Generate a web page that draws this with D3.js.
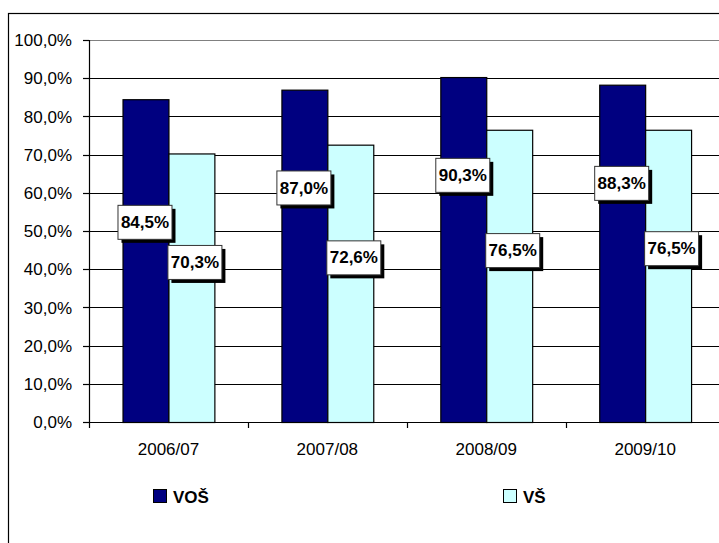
<!DOCTYPE html>
<html>
<head>
<meta charset="utf-8">
<script src="https://cdn.jsdelivr.net/npm/d3@7"></script>
<style>
  html, body { margin: 0; padding: 0; background: #fff; }
  svg { display: block; font-family: Arial, "Liberation Sans", sans-serif; }
</style>
</head>
<body>
<svg id="chart" width="719" height="543"></svg>
<script>
// ---------- data ----------
const years = ["2006/07", "2007/08", "2008/09", "2009/10"];
const series = ["VOŠ", "VŠ"];
const vosValues = [84.5, 87.0, 90.3, 88.3];
const vsValues = [70.3, 72.6, 76.5, 76.5];
const yTicks = [0, 10, 20, 30, 40, 50, 60, 70, 80, 90, 100];
// where the (hand-placed) value labels sit, in axis units
const vosLabelAt = [52.4, 61.4, 64.7, 62.6];
const vsLabelAt = [41.9, 43.1, 45.0, 45.5];

const colors = { "VOŠ": "#000080", "VŠ": "#ccffff" };

// ---------- helpers ----------
const cz = d3.formatLocale({ decimal: ",", thousands: " ", grouping: [3], currency: ["", " Kč"] });
const pct = (v) => cz.format(".1%")(v / 100);

const svg = d3.select("#chart");

// ---------- layout ----------
const plot = { left: 89, right: 724.6, top: 40, bottom: 422 };

const x = d3.scaleBand()
  .domain(years)
  .range([plot.left, plot.right])
  .padding(0);

const xs = d3.scaleBand()
  .domain(series)
  .range([0, x.bandwidth()])
  .paddingInner(0)
  .paddingOuter(0.73);

const y = d3.scaleLinear()
  .domain([0, 100])
  .range([plot.bottom, plot.top]);

// outer chart border (runs off the right/bottom like the original)
svg.append("rect")
  .attr("x", 8.5).attr("y", 13.5)
  .attr("width", 740).attr("height", 540)
  .attr("fill", "none")
  .attr("stroke", "#000")
  .attr("stroke-width", 1.2);

// ---------- grid ----------
svg.append("g")
  .selectAll("line")
  .data(yTicks.filter(t => t > 0))
  .join("line")
  .attr("x1", plot.left).attr("x2", plot.right + 10)
  .attr("y1", d => Math.round(y(d)) + 0.5)
  .attr("y2", d => Math.round(y(d)) + 0.5)
  .attr("stroke", d => d === 100 ? "#808080" : "#000")
  .attr("stroke-width", 1.2);

// ---------- y axis ----------
const yAxis = svg.append("g").attr("transform", `translate(${plot.left},0)`);
yAxis.append("line")
  .attr("x1", 0.5).attr("x2", 0.5)
  .attr("y1", plot.top).attr("y2", plot.bottom + 6)
  .attr("stroke", "#000").attr("stroke-width", 1.2);
yAxis.selectAll("line.tick")
  .data(yTicks)
  .join("line")
  .attr("class", "tick")
  .attr("x1", -6).attr("x2", 0)
  .attr("y1", d => Math.round(y(d)) + 0.5)
  .attr("y2", d => Math.round(y(d)) + 0.5)
  .attr("stroke", "#000").attr("stroke-width", 1.2);
yAxis.selectAll("text")
  .data(yTicks)
  .join("text")
  .attr("x", -17)
  .attr("y", d => y(d))
  .attr("dy", "0.36em")
  .attr("text-anchor", "end")
  .attr("font-size", 17)
  .attr("fill", "#000")
  .text(d => pct(d));

// ---------- bars ----------
const groups = svg.append("g")
  .selectAll("g")
  .data(years.map((yr, i) => ({ yr, i })))
  .join("g")
  .attr("transform", d => `translate(${x(d.yr)},0)`);

const barData = (d) => [
  { s: "VOŠ", v: vosValues[d.i], at: vosLabelAt[d.i] },
  { s: "VŠ", v: vsValues[d.i], at: vsLabelAt[d.i] },
];

groups.selectAll("rect")
  .data(barData)
  .join("rect")
  .attr("x", b => xs(b.s) + 0.5)
  .attr("y", b => y(b.v) + 0.5)
  .attr("width", xs.bandwidth())
  .attr("height", b => plot.bottom - y(b.v))
  .attr("fill", b => colors[b.s])
  .attr("stroke", "#000")
  .attr("stroke-width", 1.2);

// ---------- x axis ----------
svg.append("line")
  .attr("x1", plot.left).attr("x2", plot.right + 10)
  .attr("y1", plot.bottom + 0.5).attr("y2", plot.bottom + 0.5)
  .attr("stroke", "#000").attr("stroke-width", 1.2);

svg.append("g")
  .selectAll("line")
  .data(years.slice(1).concat(["end"]))
  .join("line")
  .attr("x1", (d, i) => Math.round(plot.left + x.step() * (i + 1)) + 0.5)
  .attr("x2", (d, i) => Math.round(plot.left + x.step() * (i + 1)) + 0.5)
  .attr("y1", plot.bottom).attr("y2", plot.bottom + 6)
  .attr("stroke", "#000").attr("stroke-width", 1.2);

svg.append("g")
  .selectAll("text")
  .data(years)
  .join("text")
  .attr("x", d => x(d) + x.bandwidth() / 2)
  .attr("y", 455)
  .attr("text-anchor", "middle")
  .attr("font-size", 17)
  .attr("fill", "#000")
  .text(d => d);

// ---------- value labels ----------
const boxW = 54, boxH = 34;
const labels = groups.selectAll("g.lbl")
  .data(barData)
  .join("g")
  .attr("class", "lbl")
  .attr("transform", b => `translate(${xs(b.s) + xs.bandwidth() / 2 + (b.s === "VŠ" ? 3 : -1)},${y(b.at)})`);

labels.append("rect")
  .attr("x", -boxW / 2 + 4).attr("y", -boxH / 2 + 4)
  .attr("width", boxW).attr("height", boxH)
  .attr("fill", "#000");

labels.append("rect")
  .attr("x", -boxW / 2 + 0.5).attr("y", -boxH / 2 + 0.5)
  .attr("width", boxW).attr("height", boxH)
  .attr("fill", "#fff")
  .attr("stroke", "#333")
  .attr("stroke-width", 1);

labels.append("text")
  .attr("x", 0.5).attr("y", 0)
  .attr("dy", "0.36em")
  .attr("text-anchor", "middle")
  .attr("font-size", 17)
  .attr("font-weight", "bold")
  .attr("fill", "#000")
  .text(b => pct(b.v));

// ---------- legend ----------
const legendX = [153, 503];
const legend = svg.append("g")
  .selectAll("g")
  .data(series)
  .join("g")
  .attr("transform", (d, i) => `translate(${legendX[i]},489)`);

legend.append("rect")
  .attr("x", 0.5).attr("y", 0.5)
  .attr("width", 13).attr("height", 13)
  .attr("fill", d => colors[d])
  .attr("stroke", "#000")
  .attr("stroke-width", 1);

legend.append("text")
  .attr("x", 20).attr("y", 13.5)
  .attr("font-size", 17)
  .attr("font-weight", "bold")
  .attr("fill", "#000")
  .text(d => d);
</script>
</body>
</html>
